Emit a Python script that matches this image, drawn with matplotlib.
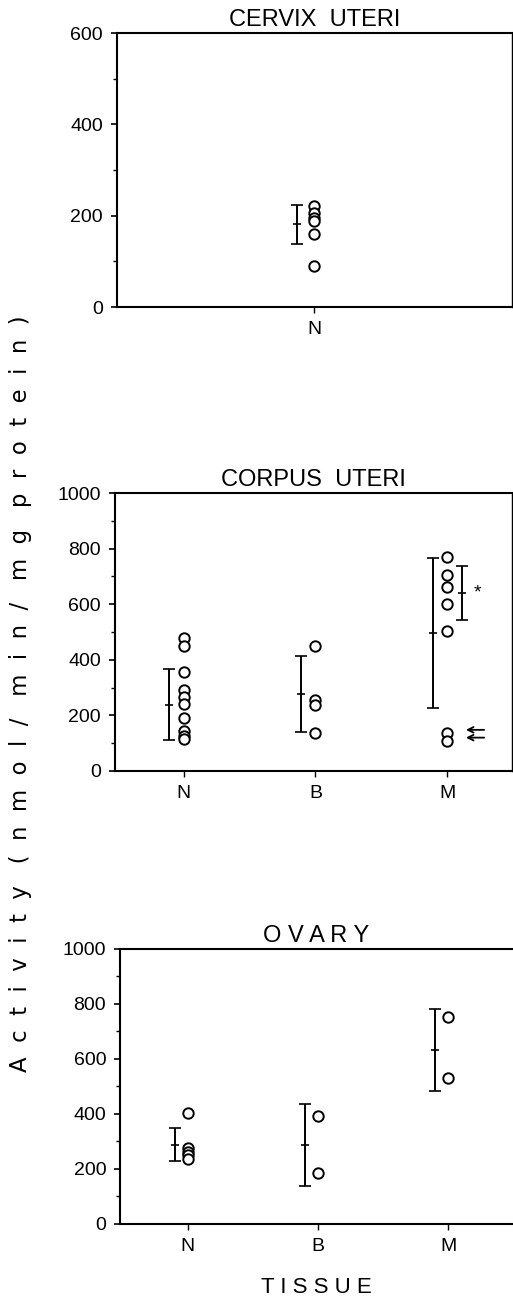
import numpy as np
import matplotlib.pyplot as plt

# values (nmol/min/mg protein)
cervix_N = [222, 205, 195, 188, 160, 90]
cervix_stats = [(181, 43)]  # mean, sd

corpus_N = [480, 450, 355, 290, 265, 240, 190, 145, 125, 115]
corpus_B = [448, 256, 238, 136]
corpus_M = [770, 706, 661, 600, 505, 138, 109]
corpus_stats = [(238, 128), (276, 136), (496, 270)]
corpus_M_sub = (640, 98)      # without the two arrowed values
arrow_vals = [148, 120]

ovary_N = [405, 275, 262, 250, 238]
ovary_B = [394, 187]
ovary_M = [751, 530]
ovary_stats = [(288, 60), (288, 150), (633, 150)]

cats = ['N', 'B', 'M']

plt.rcParams['font.family'] = ['Liberation Sans', 'DejaVu Sans']
fig = plt.figure(figsize=(5.13, 13.01), dpi=100)


def style(ax, ymax, right=True):
    ax.set_ylim(0, ymax)
    ax.set_yticks(np.arange(0, ymax + 1, 200))
    ax.set_yticks(np.arange(100, ymax, 200), minor=True)
    ax.tick_params(axis='y', which='major', direction='out', length=4, width=1.2,
                   labelsize=14, pad=6)
    ax.tick_params(axis='y', which='minor', direction='out', length=3, width=1)
    ax.tick_params(axis='x', direction='out', length=4, width=1, labelsize=14, pad=6)
    for s in ax.spines.values():
        s.set_linewidth(1.5)
    ax.spines['right'].set_visible(right)
    ax.spines['right'].set_linewidth(1)


def points(ax, x, vals):
    ax.plot([x] * len(vals), vals, 'o', mfc='white', mec='black', mew=1.4, ms=7.5)


def bar(ax, x, m, sd):
    ax.errorbar(x, m, yerr=sd, fmt='_', color='black', ms=6, mew=1.2,
                elinewidth=1.4, capsize=4, capthick=1.4)


# cervix uteri
ax1 = fig.add_axes([0.228, 0.764, 0.770, 0.2106])
style(ax1, 600)
ax1.set_xlim(-1.5, 1.5)
points(ax1, 0, cervix_N)
bar(ax1, -0.13, *cervix_stats[0])
ax1.set_xticks([0])
ax1.set_xticklabels(['N'])
ax1.set_title('CERVIX  UTERI', fontsize=17, pad=5)

# corpus uteri
ax2 = fig.add_axes([0.224, 0.4074, 0.774, 0.2136])
style(ax2, 1000)
ax2.set_xlim(-0.52, 2.49)
for i, vals in enumerate([corpus_N, corpus_B, corpus_M]):
    points(ax2, i, vals)
    bar(ax2, i - 0.11, *corpus_stats[i])
bar(ax2, 2.11, *corpus_M_sub)
ax2.text(2.23, corpus_M_sub[0], '*', fontsize=14, ha='center', va='center')
for v in arrow_vals:
    ax2.annotate('', xy=(2.12, v), xytext=(2.3, v),
                 arrowprops=dict(arrowstyle='->', lw=1.3, color='black'))
ax2.set_xticks(range(3))
ax2.set_xticklabels(cats)
ax2.set_title('CORPUS  UTERI', fontsize=17, pad=5)

# ovary
ax3 = fig.add_axes([0.234, 0.0592, 0.764, 0.2114])
style(ax3, 1000, right=False)
ax3.set_xlim(-0.52, 2.49)
for i, vals in enumerate([ovary_N, ovary_B, ovary_M]):
    points(ax3, i, vals)
    bar(ax3, i - 0.1, *ovary_stats[i])
ax3.set_xticks(range(3))
ax3.set_xticklabels(cats)
ax3.set_title('O V A R Y', fontsize=17, pad=5)
ax3.set_xlabel('T I S S U E', fontsize=16, labelpad=16)

ylab = 'A  c  t  i  v  i  t  y   (  n  m  o  l  /   m  i  n  /   m  g   p  r  o  t  e  i  n  )'
fig.text(0.040, 0.4666, ylab, rotation=90, fontsize=16.4, ha='center', va='center',
         family='DejaVu Sans')

fig.savefig('out.png', dpi=100)
